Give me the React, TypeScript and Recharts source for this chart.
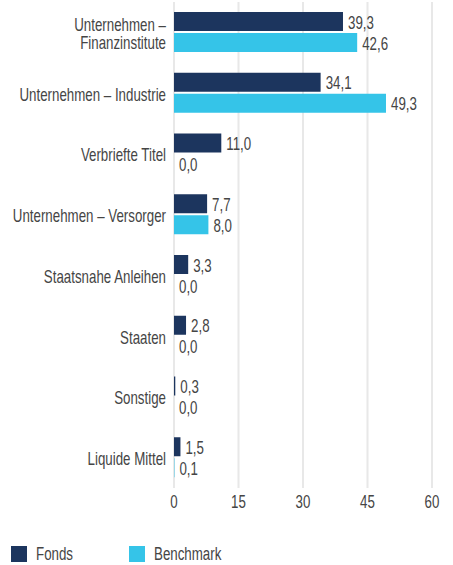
import {
  BarChart,
  Bar,
  XAxis,
  YAxis,
  CartesianGrid,
  LabelList,
  Legend
} from "recharts";

const categories = [
  "Unternehmen –\nFinanzinstitute",
  "Unternehmen – Industrie",
  "Verbriefte Titel",
  "Unternehmen – Versorger",
  "Staatsnahe Anleihen",
  "Staaten",
  "Sonstige",
  "Liquide Mittel"
];
const fonds = [39.3, 34.1, 11.0, 7.7, 3.3, 2.8, 0.3, 1.5];
const benchmark = [42.6, 49.3, 0.0, 8.0, 0.0, 0.0, 0.0, 0.1];
const xTicks = [0, 15, 30, 45, 60];

const data = categories.map((name, i) => ({name, fonds: fonds[i], benchmark: benchmark[i]}));

const FONT = '"Liberation Sans", Arial, sans-serif';
const TEXT = '#454545';
const NAVY = '#1c355e';
const CYAN = '#35c4e8';
const SIZE = 18;
const SQUEEZE = 0.74;

const fmt = (v: any) => Number(v).toFixed(1).replace('.', ',');

// no condensed font available, so squeeze a regular one horizontally
function Narrow({x, y, anchor = 'start', children}: any) {
  return (
    <g transform={`translate(${x},${y}) scale(${SQUEEZE},1)`}>
      <text x={0} y={0} textAnchor={anchor} fill={TEXT} fontSize={SIZE} fontFamily={FONT}>
        {children}
      </text>
    </g>
  );
}

function CatTick({x, y, payload}: any) {
  const lines = String(payload.value).split('\n');
  const first = lines.length > 1 ? -1.5 : 7.5;
  return (
    <Narrow x={x} y={y} anchor="end">
      {lines.map((l, i) => (
        <tspan key={i} x={0} dy={i === 0 ? first : 18}>{l}</tspan>
      ))}
    </Narrow>
  );
}

function NumTick({x, y, payload}: any) {
  return (
    <Narrow x={x} y={y + 12} anchor="middle">{payload.value}</Narrow>
  );
}

function ValueLabel({x, y, width, height, value}: any) {
  return (
    <Narrow x={x + width + 5} y={y + height / 2 + 7}>{fmt(value)}</Narrow>
  );
}

function LegendBox() {
  const items = [{label: 'Fonds', color: NAVY}, {label: 'Benchmark', color: CYAN}];
  return (
    <div style={{display: 'flex', paddingTop: 25, paddingLeft: 11, height: 47, boxSizing: 'border-box'}}>
      {items.map(it => (
        <div key={it.label} style={{display: 'flex', alignItems: 'center', width: 118, fontFamily: FONT, fontSize: SIZE, color: TEXT}}>
          <span style={{width: 16, height: 16, background: it.color, marginRight: 9, display: 'inline-block', flex: 'none'}} />
          <span style={{display: 'inline-block', transform: `scaleX(${SQUEEZE})`, transformOrigin: 'left center'}}>{it.label}</span>
        </div>
      ))}
    </div>
  );
}

const zeroLabelSize = (v: any) => (v === 0 ? 0.01 : 0);

export default function App() {
  return (
    <div style={{position: 'absolute', left: 0, top: 0, width: 453, height: 565, background: '#fff'}}>
      <BarChart
        width={453}
        height={565}
        data={data}
        layout="vertical"
        margin={{top: 2, right: 21, left: 0, bottom: 0}}
        barSize={19}
        barGap={2}
      >
        <CartesianGrid horizontal={false} stroke="#e8e8e8" strokeWidth={2} />
        <XAxis
          type="number"
          domain={[0, 60]}
          ticks={xTicks}
          axisLine={false}
          tickLine={false}
          height={30}
          tick={<NumTick />}
        />
        <YAxis
          type="category"
          dataKey="name"
          width={174}
          axisLine={false}
          tickLine={false}
          tick={<CatTick />}
        />
        <Legend verticalAlign="bottom" align="left" content={<LegendBox />} />
        <Bar dataKey="fonds" name="Fonds" fill={NAVY} minPointSize={zeroLabelSize} isAnimationActive={false}>
          <LabelList dataKey="fonds" content={<ValueLabel />} />
        </Bar>
        <Bar dataKey="benchmark" name="Benchmark" fill={CYAN} minPointSize={zeroLabelSize} isAnimationActive={false}>
          <LabelList dataKey="benchmark" content={<ValueLabel />} />
        </Bar>
      </BarChart>
    </div>
  );
}
